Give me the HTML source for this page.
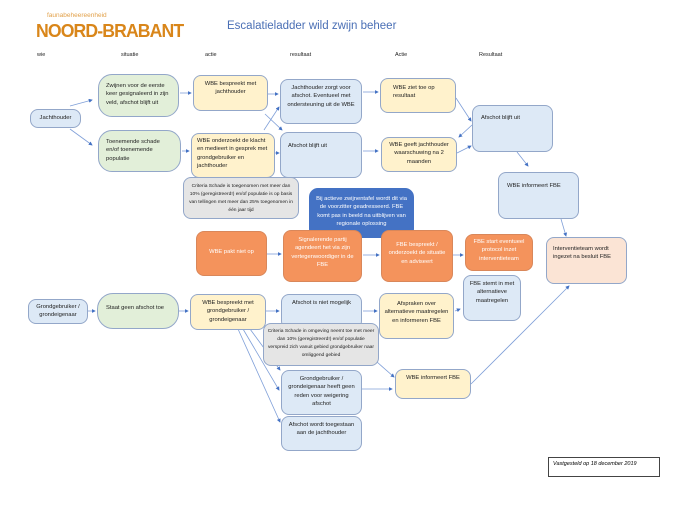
<!DOCTYPE html>
<html><head><meta charset="utf-8"><style>
body{margin:0;width:675px;height:505px;background:#fff;position:relative;overflow:hidden;font-family:"Liberation Sans",sans-serif;}
.b{position:absolute;box-sizing:border-box;border:1.3px solid #93a7c9;border-radius:8px;font-size:5.8px;line-height:8.4px;color:#222;padding:4px 4px;}
.bl{background:#dde9f6}.gr{background:#e2efd9;border-radius:14px}.ye{background:#fff2cc}.gy{background:#e5e5e5;font-size:4.9px;line-height:8px;text-align:center}
.or{background:#f4935c;color:#fff;border-color:#d9875a;text-align:center}.db{background:#4472c4;color:#fff;border-color:#4472c4;text-align:center}.pe{background:#fbe4d5}
.c{text-align:center}
.h{position:absolute;font-size:5.5px;color:#222;top:52px}
svg{position:absolute;left:0;top:0}
</style></head><body>
<div style="position:absolute;left:47px;top:12px;font-size:6.5px;color:#e2a14a">faunabeheereenheid</div>
<div style="position:absolute;left:36px;top:21px;font-size:18px;font-weight:bold;color:#d9861a;letter-spacing:-0.9px;transform:scaleX(0.98);transform-origin:left">NOORD-BRABANT</div>
<div style="position:absolute;left:227px;top:20px;font-size:11.5px;color:#4a6fb5">Escalatieladder wild zwijn beheer</div>
<div class="h" style="left:37px">wie</div><div class="h" style="left:121px">situatie</div><div class="h" style="left:205px">actie</div><div class="h" style="left:290px">resultaat</div><div class="h" style="left:395px">Actie</div><div class="h" style="left:479px">Resultaat</div>
<svg width="675" height="505"><defs><marker id="a" markerWidth="5" markerHeight="5" refX="4" refY="2.5" orient="auto"><path d="M0,0L5,2.5L0,5z" fill="#4472c4"/></marker></defs>
<g stroke="#7f9fd8" stroke-width="0.8" fill="none" marker-end="url(#a)">
<line x1="70" y1="106" x2="92" y2="100"/><line x1="70" y1="129" x2="92" y2="145"/>
<line x1="180" y1="93" x2="191" y2="93"/><line x1="182" y1="151" x2="189" y2="151"/>
<line x1="268" y1="94" x2="278" y2="94"/><line x1="264" y1="130" x2="279" y2="107"/><line x1="265" y1="114" x2="282" y2="130"/><line x1="275" y1="153" x2="279" y2="153"/>
<line x1="363" y1="92" x2="378" y2="92"/><line x1="363" y1="151" x2="378" y2="151"/>
<line x1="456" y1="98" x2="471" y2="121"/><line x1="472" y1="125" x2="459" y2="137"/><line x1="457" y1="153" x2="471" y2="146"/>
<line x1="517" y1="152" x2="528" y2="166"/><line x1="561" y1="219" x2="566" y2="236"/>
<line x1="267" y1="254" x2="281" y2="254"/><line x1="363" y1="255" x2="379" y2="255"/><line x1="453" y1="255" x2="463" y2="255"/>
<line x1="88" y1="311" x2="95" y2="311"/><line x1="179" y1="311" x2="188" y2="311"/><line x1="266" y1="311" x2="279" y2="311"/>
<line x1="243" y1="329" x2="279" y2="390"/><line x1="238" y1="329" x2="280" y2="422"/><line x1="250" y1="329" x2="280" y2="370"/>
<line x1="363" y1="311" x2="377" y2="311"/><line x1="455" y1="311" x2="460" y2="309"/>
<line x1="377" y1="362" x2="394" y2="377"/><line x1="362" y1="389" x2="392" y2="389"/><line x1="471" y1="384" x2="569" y2="286"/>
</g></svg>
<div class="b bl c" style="left:30px;top:109px;width:51px;height:19px;padding-top:4px">Jachthouder</div>
<div class="b gr" style="left:98px;top:74px;width:81px;height:43px;padding:7px 5px 0 7px">Zwijnen voor de eerste keer gesignaleerd in zijn veld, afschot blijft uit</div>
<div class="b gr" style="left:98px;top:130px;width:83px;height:42px;padding:7px 7px">Toenemende schade en/of toenemende populatie</div>
<div class="b ye c" style="left:193px;top:75px;width:75px;height:36px">WBE bespreekt met jachthouder</div>
<div class="b ye" style="left:191px;top:133px;width:84px;height:45px;padding:3px 5px">WBE onderzoekt de klacht en medieert in gesprek met grondgebruiker en jachthouder</div>
<div class="b gy" style="left:183px;top:177px;width:116px;height:42px;padding:5px 3px">Criteria Schade is toegenomen met meer dan 10% (geregistreerd!) en/of populatie is op basis van tellingen met meer dan 25% toegenomen in één jaar tijd</div>
<div class="b bl c" style="left:280px;top:79px;width:82px;height:45px">Jachthouder zorgt voor afschot. Eventueel met ondersteuning uit de WBE</div>
<div class="b bl" style="left:280px;top:132px;width:82px;height:46px;padding:9px 7px">Afschot blijft uit</div>
<div class="b ye" style="left:380px;top:78px;width:76px;height:35px;padding:5px 12px">WBE ziet toe op resultaat</div>
<div class="b ye c" style="left:381px;top:137px;width:76px;height:35px;padding:3px 2px">WBE geeft jachthouder waarschuwing na 2 maanden</div>
<div class="b bl" style="left:472px;top:105px;width:81px;height:47px;padding:8px 8px">Afschot blijft uit</div>
<div class="b bl" style="left:498px;top:172px;width:81px;height:47px;padding:9px 8px">WBE informeert FBE</div>
<div class="b db" style="left:309px;top:188px;width:105px;height:50px;border-radius:9px;padding:6px 3px">Bij actieve zwijnentafel wordt dit via de voorzitter geadresseerd. FBE komt pas in beeld na uitblijven van regionale oplossing</div>
<div class="b or" style="left:196px;top:231px;width:71px;height:45px;padding-top:16px">WBE pakt niet op</div>
<div class="b or" style="left:283px;top:230px;width:79px;height:52px;padding-top:5px">Signalerende partij agendeert het via zijn vertegenwoordiger in de FBE</div>
<div class="b or" style="left:381px;top:230px;width:72px;height:52px;padding-top:10px">FBE bespreekt / onderzoekt de situatie en adviseert</div>
<div class="b or" style="left:465px;top:234px;width:68px;height:37px;padding-top:3px">FBE start eventueel protocol inzet interventieteam</div>
<div class="b pe" style="left:546px;top:237px;width:81px;height:47px;padding:7px 6px">Interventieteam wordt ingezet na besluit FBE</div>
<div class="b bl c" style="left:463px;top:275px;width:58px;height:46px">FBE stemt in met alternatieve maatregelen</div>
<div class="b bl c" style="left:28px;top:299px;width:60px;height:25px;padding-top:3px">Grondgebruiker / grondeigenaar</div>
<div class="b gr" style="left:97px;top:293px;width:82px;height:36px;border-radius:16px;padding:10px 8px">Staat geen afschot toe</div>
<div class="b ye c" style="left:190px;top:294px;width:76px;height:36px">WBE bespreekt met grondgebruiker / grondeigenaar</div>
<div class="b bl c" style="left:281px;top:294px;width:81px;height:35px">Afschot is niet mogelijk</div>
<div class="b gy" style="left:263px;top:323px;width:116px;height:43px;padding:4px 3px">Criteria Schade in omgeving neemt toe met meer dan 10% (geregistreerd!) en/of populatie verspreid zich vanuit gebied grondgebruiker naar omliggend gebied</div>
<div class="b ye c" style="left:379px;top:293px;width:75px;height:46px;padding-top:6px">Afspraken over alternatieve maatregelen en informeren FBE</div>
<div class="b bl c" style="left:281px;top:370px;width:81px;height:45px">Grondgebruiker / grondeigenaar heeft geen reden voor weigering afschot</div>
<div class="b bl c" style="left:281px;top:416px;width:81px;height:35px">Afschot wordt toegestaan aan de jachthouder</div>
<div class="b ye c" style="left:395px;top:369px;width:76px;height:30px">WBE informeert FBE</div>
<div style="position:absolute;left:548px;top:457px;width:112px;height:20px;box-sizing:border-box;border:1px solid #444;font-size:5.5px;font-style:italic;padding:3px 4px">Vastgesteld op 18 december 2019</div>
</body></html>
